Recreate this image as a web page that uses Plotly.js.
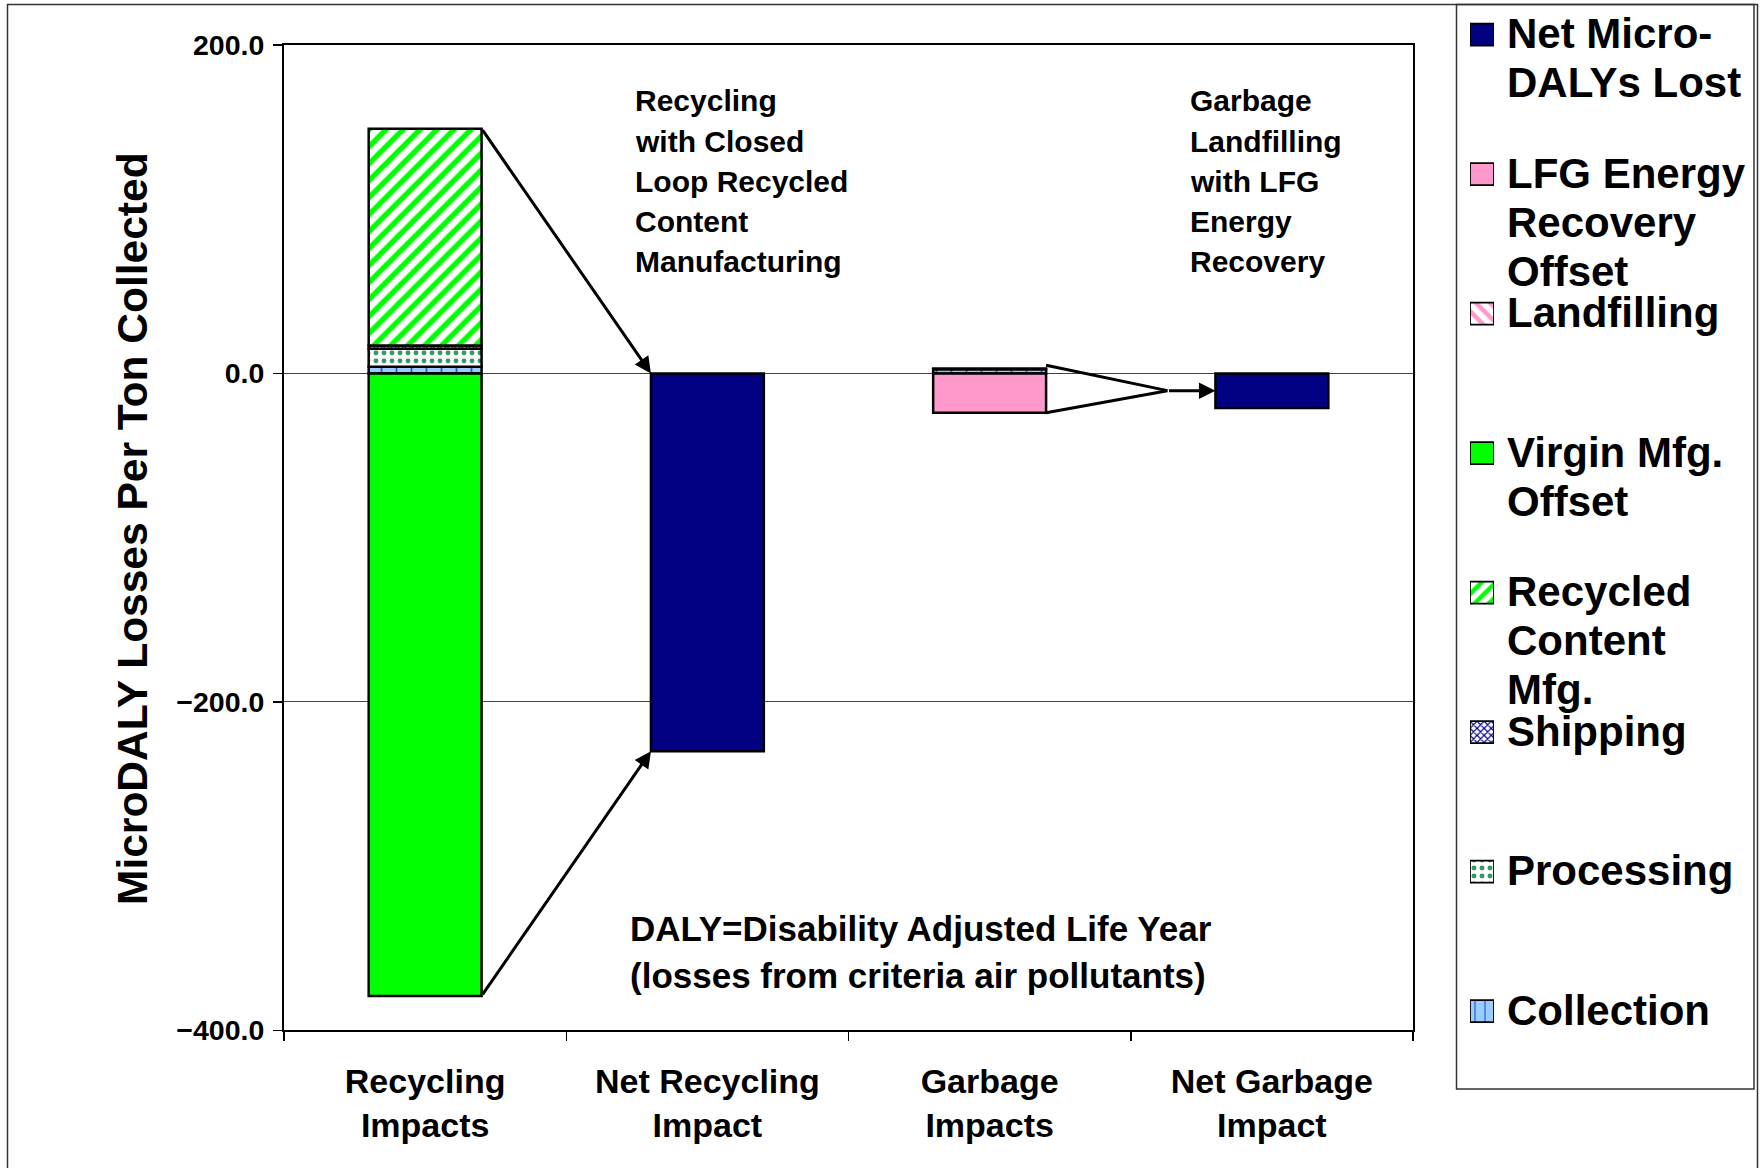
<!DOCTYPE html>
<html>
<head>
<meta charset="utf-8">
<script src="https://cdn.plot.ly/plotly-3.0.1.min.js"></script>
<style>
  html, body { margin: 0; padding: 0; background: #ffffff; }
  #chart { width: 1760px; height: 1168px; }
</style>
</head>
<body>
<div id="chart"></div>
<script>
// ---- Data (microDALYs per ton collected) ----
const categories = [
  "Recycling<br>Impacts",
  "Net Recycling<br>Impact",
  "Garbage<br>Impacts",
  "Net Garbage<br>Impact"
];

const collection       = [4.0,  null, 2.6,  null];
const processing       = [11.0, null, null, null];
const shipping         = [2.0,  null, null, null];
const recycledContent  = [132.0, null, null, null];
const virginMfgOffset  = [-379.0, null, null, null];
const landfilling      = [null, null, 0.4,  null];
const lfgEnergyOffset  = [null, null, -24.0, null];
const netMicroDALYs    = [null, -230.0, null, -21.0];

const yTickValues = [-400, -200, 0, 200];
const yTitle = "MicroDALY Losses Per Ton Collected";

// Legend wording, one array entry per printed line
const legendNames = {
  net:        ["Net Micro-", "DALYs Lost"],
  lfg:        ["LFG Energy", "Recovery", "Offset"],
  landfill:   ["Landfilling"],
  virgin:     ["Virgin Mfg.", "Offset"],
  recycled:   ["Recycled", "Content", "Mfg."],
  shipping:   ["Shipping"],
  processing: ["Processing"],
  collection: ["Collection"]
};

const noteRecycling = ["Recycling", "with Closed", "Loop Recycled", "Content", "Manufacturing"];
const noteGarbage   = ["Garbage", "Landfilling", "with LFG", "Energy", "Recovery"];
const noteDaly      = ["DALY=Disability Adjusted Life Year", "(losses from criteria air pollutants)"];

// ---- Styling ----
const FONT = "Liberation Sans, Arial, Helvetica, sans-serif";
const W = 1760, H = 1168;
const px = p => p / W;          // horizontal pixel -> paper
const py = p => 1 - p / H;      // vertical pixel -> paper

const styles = {
  collection: { color: "#99CCFF", pattern: { shape: "|", fgcolor: "#3355CC", bgcolor: "#99CCFF", size: 15, solidity: 0.12 } },
  processing: { color: "#FFFFFF", pattern: { shape: ".", fgcolor: "#339966", bgcolor: "#FFFFFF", size: 8, solidity: 0.3 } },
  shipping:   { color: "#FFFFFF", pattern: { shape: "x", fgcolor: "#000080", bgcolor: "#FFFFFF", size: 5, solidity: 0.4 } },
  recycled:   { color: "#FFFFFF", pattern: { shape: "/", fgcolor: "#00FF00", bgcolor: "#FFFFFF", size: 12, solidity: 0.45 } },
  virgin:     { color: "#00FF00", pattern: { shape: "" } },
  landfill:   { color: "#FFFFFF", pattern: { shape: "\\", fgcolor: "#FF99CC", bgcolor: "#FFFFFF", size: 12, solidity: 0.45 } },
  lfg:        { color: "#FF99CC", pattern: { shape: "" } },
  net:        { color: "#000080", pattern: { shape: "" } }
};

const BAR_W = 0.4;
const OUTLINE = { color: "#000000", width: 2.5 };

function barTrace(key, values) {
  return {
    type: "bar",
    x: categories,
    y: values,
    width: BAR_W,
    name: legendNames[key].join(" "),
    marker: { color: styles[key].color, pattern: styles[key].pattern, line: OUTLINE },
    hoverinfo: "skip",
    showlegend: false
  };
}

const traces = [
  barTrace("collection", collection),
  barTrace("processing", processing),
  barTrace("shipping", shipping),
  barTrace("recycled", recycledContent),
  barTrace("virgin", virginMfgOffset),
  barTrace("landfill", landfilling),
  barTrace("lfg", lfgEnergyOffset),
  barTrace("net", netMicroDALYs)
];

// ---- Legend: swatches as short horizontal bars in a pixel-scaled side axis ----
const legendOrder = ["net", "lfg", "landfill", "virgin", "recycled", "shipping", "processing", "collection"];
const LEG_TOP = 33.7, LEG_STEP = 139.5, LEG_LINE = 49, SWATCH = 22;

legendOrder.forEach((k, i) => {
  traces.push({
    type: "bar",
    orientation: "h",
    xaxis: "x2",
    yaxis: "y2",
    y: [LEG_TOP + i * LEG_STEP + 1],
    x: [1],
    width: SWATCH,
    marker: {
      color: styles[k].color,
      pattern: Object.assign({}, styles[k].pattern, styles[k].pattern.size ? { size: Math.min(styles[k].pattern.size, 10) } : {}),
      line: { color: "#000000", width: 1.8 }
    },
    hoverinfo: "skip",
    showlegend: false
  });
});

const annotations = [];

legendOrder.forEach((k, i) => {
  legendNames[k].forEach((line, j) => {
    annotations.push({
      xref: "paper", yref: "paper",
      x: px(1505), y: py(LEG_TOP + i * LEG_STEP + j * LEG_LINE),
      xanchor: "left", yanchor: "middle",
      text: line, showarrow: false,
      font: { family: FONT, size: 42, weight: "bold", color: "#000000" }
    });
  });
});

// ---- Text notes inside the plot, one line at a time ----
function noteLines(lines, left, firstCenter, step, size) {
  lines.forEach((line, j) => {
    annotations.push({
      xref: "paper", yref: "paper", x: px(left), y: py(firstCenter + j * step),
      xanchor: "left", yanchor: "middle", align: "left",
      text: line, showarrow: false,
      font: { family: FONT, size: size, weight: "bold", color: "#000000" }
    });
  });
}
noteLines(noteRecycling, 633, 101, 40.2, 30);
noteLines(noteGarbage, 1188, 101, 40.2, 30);
noteLines(noteDaly, 628, 928, 47, 35);

// Vertical axis title
annotations.push({
  xref: "paper", yref: "paper", x: px(132), y: py(529),
  xanchor: "center", yanchor: "middle", textangle: -90,
  text: yTitle, showarrow: false,
  font: { family: FONT, size: 42.5, weight: "bold", color: "#000000" }
});

// ---- Flow arrows between the stacked bars and the net bars ----
const recTop    = collection[0] + processing[0] + shipping[0] + recycledContent[0];
const recBottom = virginMfgOffset[0];
const recNet    = netMicroDALYs[1];
const garTop    = collection[2] + landfilling[2];
const garBottom = lfgEnergyOffset[2];
const garNet    = netMicroDALYs[3];
const half = BAR_W / 2;

function arrow(x0, y0, x1, y1) {
  return {
    xref: "x", yref: "y", axref: "x", ayref: "y",
    x: x1, y: y1, ax: x0, ay: y0,
    text: "", showarrow: true,
    arrowhead: 2, arrowsize: 1.1, arrowwidth: 3, arrowcolor: "#000000",
    standoff: 0, startstandoff: 0
  };
}

annotations.push(arrow(0 + half, recTop, 1 - half, 0));
annotations.push(arrow(0 + half, recBottom, 1 - half, recNet));

const joinX = 2.63;
annotations.push(arrow(joinX, garNet / 2, 3 - half, garNet / 2));

const shapes = [
  { type: "line", xref: "x", yref: "y", x0: 2 + half, y0: garTop + 2, x1: joinX, y1: garNet / 2,
    line: { color: "#000000", width: 3 } },
  { type: "line", xref: "x", yref: "y", x0: 2 + half, y0: garBottom, x1: joinX, y1: garNet / 2,
    line: { color: "#000000", width: 3 } },
  // legend frame
  { type: "rect", xref: "paper", yref: "paper", x0: px(1456.5), x1: px(1754), y0: py(4.5), y1: py(1089),
    line: { color: "#333333", width: 1.5 }, fillcolor: "rgba(0,0,0,0)" },
  // chart frame
  { type: "rect", xref: "paper", yref: "paper", x0: px(7.5), x1: px(1757.5), y0: py(4.5), y1: py(1180),
    line: { color: "#333333", width: 1.5 }, fillcolor: "rgba(0,0,0,0)" }
];

const layout = {
  width: W,
  height: H,
  margin: { l: 0, r: 0, t: 0, b: 0 },
  paper_bgcolor: "#FFFFFF",
  plot_bgcolor: "#FFFFFF",
  barmode: "relative",
  showlegend: false,
  font: { family: FONT, color: "#000000" },
  xaxis: {
    type: "category",
    domain: [px(284), px(1413)],
    range: [-0.5, 3.5],
    tickson: "boundaries",
    ticks: "outside",
    ticklen: 9,
    tickwidth: 1.5,
    tickcolor: "#000000",
    showline: true,
    linecolor: "#000000",
    linewidth: 2,
    mirror: true,
    showgrid: false,
    ticklabelstandoff: 20,
    tickfont: { family: FONT, size: 34, weight: "bold", color: "#000000" },
    fixedrange: true
  },
  yaxis: {
    domain: [py(1030.4), py(44.9)],
    range: [-400, 200],
    tickvals: yTickValues,
    tickformat: ".1f",
    ticks: "outside",
    ticklen: 9,
    tickwidth: 1.5,
    tickcolor: "#000000",
    showline: true,
    linecolor: "#000000",
    linewidth: 2,
    mirror: true,
    showgrid: true,
    gridcolor: "#444444",
    gridwidth: 1,
    zeroline: false,
    ticklabelstandoff: 3,
    tickfont: { family: FONT, size: 28.5, weight: "bold", color: "#000000" },
    fixedrange: true
  },
  xaxis2: {
    domain: [px(1470), px(1494)],
    anchor: "y2",
    range: [0, 1],
    visible: false,
    fixedrange: true
  },
  yaxis2: {
    domain: [0, 1],
    anchor: "x2",
    range: [H, 0],
    visible: false,
    fixedrange: true
  },
  shapes: shapes,
  annotations: annotations
};

Plotly.newPlot("chart", traces, layout, { displayModeBar: false, staticPlot: true });
</script>
</body>
</html>
